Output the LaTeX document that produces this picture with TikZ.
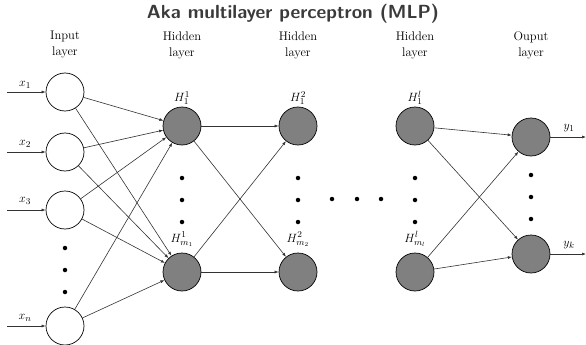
\documentclass[tikz,border=0pt]{standalone}
\usetikzlibrary{arrows.meta}
\definecolor{edgecol}{HTML}{333333}
\definecolor{titlecol}{HTML}{3A3A3A}
\begin{document}
\begin{tikzpicture}[x=1pt,y=-1pt,
  neuron/.style={circle,draw=black,line width=0.7pt,minimum size=38pt,inner sep=0pt},
  innode/.style={neuron,fill=white},
  hidnode/.style={neuron,fill=gray},
  conn/.style={draw=edgecol,line width=0.6pt,-{Latex[length=4pt,width=3pt]}},
  layerlbl/.style={align=center,font=\fontsize{12.5}{16}\selectfont},
  varlbl/.style={inner sep=0.5pt,font=\fontsize{12.5}{15}\selectfont},
  dotmark/.style={circle,fill=black,inner sep=0pt,minimum size=4.5pt}]
\useasboundingbox (0,0) rectangle (586,345);

% title
\node[font=\fontsize{19}{22}\selectfont\sffamily\bfseries,text=titlecol] (title) at (293,14) {Aka multilayer perceptron (MLP)};

% layer captions
\node[layerlbl] (capin) at (65,45) {Input\\layer};
\node[layerlbl] (caph1) at (182,45) {Hidden\\layer};
\node[layerlbl] (caph2) at (298,45) {Hidden\\layer};
\node[layerlbl] (caphl) at (415,45) {Hidden\\layer};
\node[layerlbl] (capout) at (531,45) {Ouput\\layer};

% input layer
\node[innode] (i1) at (65,92) {};
\node[innode] (i2) at (65,152) {};
\node[innode] (i3) at (65,210) {};
\node[innode] (in) at (65,326) {};

% hidden layers
\node[hidnode] (a1) at (182,126) {};
\node[hidnode] (am) at (182,272) {};
\node[hidnode] (b1) at (298,126) {};
\node[hidnode] (bm) at (298,272) {};
\node[hidnode] (c1) at (415,126) {};
\node[hidnode] (cm) at (415,272) {};

% output layer
\node[hidnode] (o1) at (531,137) {};
\node[hidnode] (ok) at (531,254) {};

% hidden unit labels
\node[varlbl] (la1) at (182,98) {$H^1_1$};
\node[varlbl] (lam) at (182,239) {$H^1_{m_1}$};
\node[varlbl] (lb1) at (298,98) {$H^2_1$};
\node[varlbl] (lbm) at (298,239) {$H^2_{m_2}$};
\node[varlbl] (lc1) at (415,98) {$H^l_1$};
\node[varlbl] (lcm) at (415,239) {$H^l_{m_l}$};

% ellipsis dots
\foreach \yy [count=\k] in {248,270,292} \node[dotmark] (di\k) at (65,\yy) {};
\foreach \yy [count=\k] in {178,200,222} {
  \node[dotmark] (da\k) at (182,\yy) {};
  \node[dotmark] (db\k) at (298,\yy) {};
  \node[dotmark] (dc\k) at (415,\yy) {};
}
\foreach \yy [count=\k] in {175,197,219} \node[dotmark] (do\k) at (531,\yy) {};
\foreach \xx [count=\k] in {332,357,381} \node[dotmark] (dh\k) at (\xx,199) {};

% inputs
\coordinate (s1) at (7,92);
\coordinate (s2) at (7,152);
\coordinate (s3) at (7,210);
\coordinate (sn) at (7,326);
\node[varlbl] (lx1) at (25,85) {$x_1$};
\node[varlbl] (lx2) at (25,144) {$x_2$};
\node[varlbl] (lx3) at (25,201) {$x_3$};
\node[varlbl] (lxn) at (25,318) {$x_n$};
\draw[conn] (s1) -- (i1);
\draw[conn] (s2) -- (i2);
\draw[conn] (s3) -- (i3);
\draw[conn] (sn) -- (in);

% outputs
\coordinate (e1) at (586,137);
\coordinate (ek) at (586,254);
\node[varlbl] (ly1) at (569,128) {$y_1$};
\node[varlbl] (lyk) at (569,245) {$y_k$};
\draw[conn] (o1) -- (e1);
\draw[conn] (ok) -- (ek);

% connections
\foreach \s in {i1,i2,i3,in} \foreach \t in {a1,am} \draw[conn] (\s) -- (\t);
\foreach \s in {a1,am} \foreach \t in {b1,bm} \draw[conn] (\s) -- (\t);
\foreach \s in {c1,cm} \foreach \t in {o1,ok} \draw[conn] (\s) -- (\t);
\end{tikzpicture}
\end{document}
